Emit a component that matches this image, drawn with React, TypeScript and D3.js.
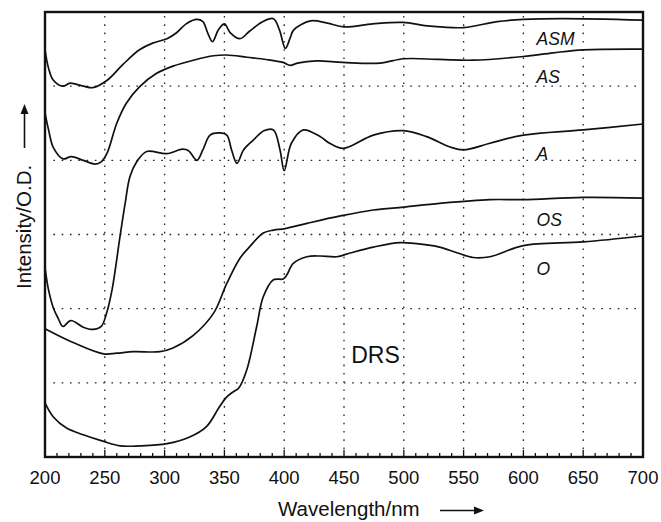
import React, { useEffect, useRef } from 'react';
import * as d3 from 'd3';

// wavelength (nm) and relative intensity (in grid units, 0 = bottom frame)
const asmWl = [200, 203, 207, 215, 221, 232, 240, 252, 265, 279, 290, 302, 310, 318, 327, 332, 336, 340, 345, 350, 355, 363, 371, 382, 391, 396, 401, 405, 408, 422, 436, 450, 474, 499, 522, 550, 578, 600, 633, 700];
const asmVal = [5.49, 5.24, 5.08, 5.0, 5.04, 5.0, 4.98, 5.08, 5.29, 5.49, 5.58, 5.64, 5.72, 5.84, 5.9, 5.87, 5.72, 5.6, 5.76, 5.84, 5.72, 5.64, 5.74, 5.87, 5.91, 5.76, 5.51, 5.65, 5.76, 5.88, 5.85, 5.8, 5.84, 5.86, 5.81, 5.79, 5.87, 5.9, 5.91, 5.89];

const asWl = [200, 203, 207, 215, 222, 232, 242, 247, 252, 260, 268, 279, 293, 307, 324, 341, 352, 369, 385, 399, 405, 411, 427, 449, 480, 500, 530, 558, 600, 625, 650, 700];
const asVal = [4.64, 4.41, 4.17, 4.02, 4.05, 4.0, 3.95, 3.98, 4.1, 4.5, 4.77, 4.99, 5.17, 5.27, 5.35, 5.41, 5.42, 5.39, 5.36, 5.32, 5.28, 5.31, 5.34, 5.32, 5.31, 5.37, 5.36, 5.35, 5.4, 5.45, 5.49, 5.5];

const aWl = [200, 203, 207, 211, 215, 221.5, 232, 240, 247, 251.5, 256, 262.7, 267, 271, 276.7, 285, 301.7, 315, 320, 327, 332, 338, 346, 352, 356, 360.5, 366, 374, 383, 391, 396.5, 400, 406, 416, 430, 438, 449.4, 474.5, 499.6, 519, 538.6, 550, 572, 600, 650, 700];
const aVal = [2.55, 2.25, 2.01, 1.87, 1.76, 1.84, 1.75, 1.72, 1.76, 1.94, 2.25, 2.97, 3.42, 3.78, 3.98, 4.12, 4.09, 4.15, 4.13, 4.0, 4.14, 4.34, 4.37, 4.34, 4.14, 3.96, 4.14, 4.27, 4.4, 4.41, 4.14, 3.86, 4.23, 4.41, 4.32, 4.23, 4.16, 4.34, 4.4, 4.32, 4.18, 4.14, 4.23, 4.34, 4.41, 4.49];

const osWl = [200, 224, 249, 260, 274, 296, 307, 324, 341, 352, 363, 371.4, 382.5, 391, 400.7, 419, 447, 474.5, 500, 530, 572, 600, 650, 700];
const osVal = [1.73, 1.54, 1.39, 1.4, 1.42, 1.42, 1.47, 1.64, 1.94, 2.34, 2.68, 2.84, 3.02, 3.06, 3.08, 3.15, 3.25, 3.33, 3.37, 3.42, 3.47, 3.47, 3.5, 3.49];

const oWl = [200, 207, 218, 232, 249, 263, 279, 302, 321, 335, 346, 352, 357.5, 362, 368.6, 377, 382.5, 391, 399, 402, 407.6, 419, 430, 444, 455, 474.5, 497, 519, 530, 545, 558, 572, 600, 650, 700];
const oVal = [0.73, 0.54, 0.39, 0.3, 0.21, 0.15, 0.15, 0.18, 0.27, 0.41, 0.68, 0.81, 0.88, 0.93, 1.17, 1.76, 2.16, 2.39, 2.4, 2.45, 2.61, 2.7, 2.71, 2.7, 2.75, 2.83, 2.89, 2.86, 2.83, 2.75, 2.69, 2.7, 2.85, 2.9, 2.98];

const xTicks = [200, 250, 300, 350, 400, 450, 500, 550, 600, 650, 700];
const yGrid = [1, 2, 3, 4, 5];

const labelNames = ['ASM', 'AS', 'A', 'OS', 'O'];
const labelLevels = [5.55, 5.04, 4.0, 3.12, 2.45];

const App = () => {
  const svgRef = useRef(null);

  useEffect(() => {
    const svg = d3.select(svgRef.current);
    svg.selectAll('*').remove();

    const width = 661;
    const height = 522;
    const margin = { top: 12, right: 18, bottom: 65, left: 45 };
    const font = "'Liberation Sans', Arial, Helvetica, sans-serif";

    const x = d3.scaleLinear().domain([200, 700]).range([margin.left, width - margin.right]);
    const y = d3.scaleLinear().domain([0, 6]).range([height - margin.bottom, margin.top]);

    // dotted grid
    svg.append('g')
      .selectAll('line')
      .data(yGrid)
      .enter()
      .append('line')
      .attr('x1', x(207))
      .attr('x2', x(695))
      .attr('y1', d => y(d))
      .attr('y2', d => y(d))
      .attr('stroke', '#222')
      .attr('stroke-width', 1.3)
      .attr('stroke-dasharray', '1.6 6.7');

    svg.append('g')
      .selectAll('line')
      .data(xTicks.slice(1, -1))
      .enter()
      .append('line')
      .attr('x1', d => x(d))
      .attr('x2', d => x(d))
      .attr('y1', y(6) + 4)
      .attr('y2', y(0))
      .attr('stroke', '#222')
      .attr('stroke-width', 1.3)
      .attr('stroke-dasharray', '1.6 6.7');

    // minor + major ticks pointing inward from the bottom
    const minor = d3.range(200, 701, 10);
    svg.append('g')
      .selectAll('line')
      .data(minor)
      .enter()
      .append('line')
      .attr('x1', d => x(d))
      .attr('x2', d => x(d))
      .attr('y1', y(0))
      .attr('y2', d => y(0) - (d % 50 === 0 ? 7 : 4))
      .attr('stroke', '#111')
      .attr('stroke-width', 1.3);

    // frame
    svg.append('rect')
      .attr('x', x(200))
      .attr('y', y(6))
      .attr('width', x(700) - x(200))
      .attr('height', y(0) - y(6))
      .attr('fill', 'none')
      .attr('stroke', '#111')
      .attr('stroke-width', 2.4);

    // spectra
    const line = d3.line()
      .x(d => x(d[0]))
      .y(d => y(d[1]))
      .curve(d3.curveCatmullRom.alpha(0.5));

    const series = [
      [asmWl, asmVal],
      [asWl, asVal],
      [aWl, aVal],
      [osWl, osVal],
      [oWl, oVal]
    ];

    series.forEach(([wl, val]) => {
      svg.append('path')
        .datum(wl.map((w, i) => [w, val[i]]))
        .attr('d', line)
        .attr('fill', 'none')
        .attr('stroke', '#111')
        .attr('stroke-width', 1.7)
        .attr('stroke-linejoin', 'round');
    });

    // series labels
    svg.append('g')
      .selectAll('text')
      .data(labelNames)
      .enter()
      .append('text')
      .attr('x', x(611))
      .attr('y', (d, i) => y(labelLevels[i]))
      .attr('font-family', font)
      .attr('font-size', '17.5px')
      .attr('font-style', 'italic')
      .attr('fill', '#111')
      .text(d => d);

    svg.append('text')
      .attr('x', x(456))
      .attr('y', 363)
      .attr('font-family', font)
      .attr('font-size', '23px')
      .attr('fill', '#111')
      .text('DRS');

    // tick labels
    svg.append('g')
      .selectAll('text')
      .data(xTicks)
      .enter()
      .append('text')
      .attr('x', d => x(d))
      .attr('y', 484)
      .attr('text-anchor', 'middle')
      .attr('font-family', font)
      .attr('font-size', '18.5px')
      .attr('fill', '#111')
      .text(d => d);

    // x axis title with arrow
    svg.append('text')
      .attr('x', 278)
      .attr('y', 516)
      .attr('font-family', font)
      .attr('font-size', '20.5px')
      .attr('fill', '#111')
      .text('Wavelength/nm');

    svg.append('line')
      .attr('x1', 440)
      .attr('x2', 476)
      .attr('y1', 510.5)
      .attr('y2', 510.5)
      .attr('stroke', '#111')
      .attr('stroke-width', 1.6);
    svg.append('path')
      .attr('d', 'M474,506.5 L484,510.5 L474,514.5 Z')
      .attr('fill', '#111');

    // y axis title with arrow
    svg.append('text')
      .attr('transform', 'translate(31,289) rotate(-90)')
      .attr('font-family', font)
      .attr('font-size', '20.5px')
      .attr('fill', '#111')
      .text('Intensity/O.D.');

    svg.append('line')
      .attr('x1', 24.5)
      .attr('x2', 24.5)
      .attr('y1', 148)
      .attr('y2', 112)
      .attr('stroke', '#111')
      .attr('stroke-width', 1.6);
    svg.append('path')
      .attr('d', 'M20.5,114 L24.5,104 L28.5,114 Z')
      .attr('fill', '#111');
  }, []);

  return (
    <svg
      ref={svgRef}
      width={661}
      height={522}
      style={{ position: 'absolute', left: 0, top: 0, background: '#fff' }}
    />
  );
};

export default App;
